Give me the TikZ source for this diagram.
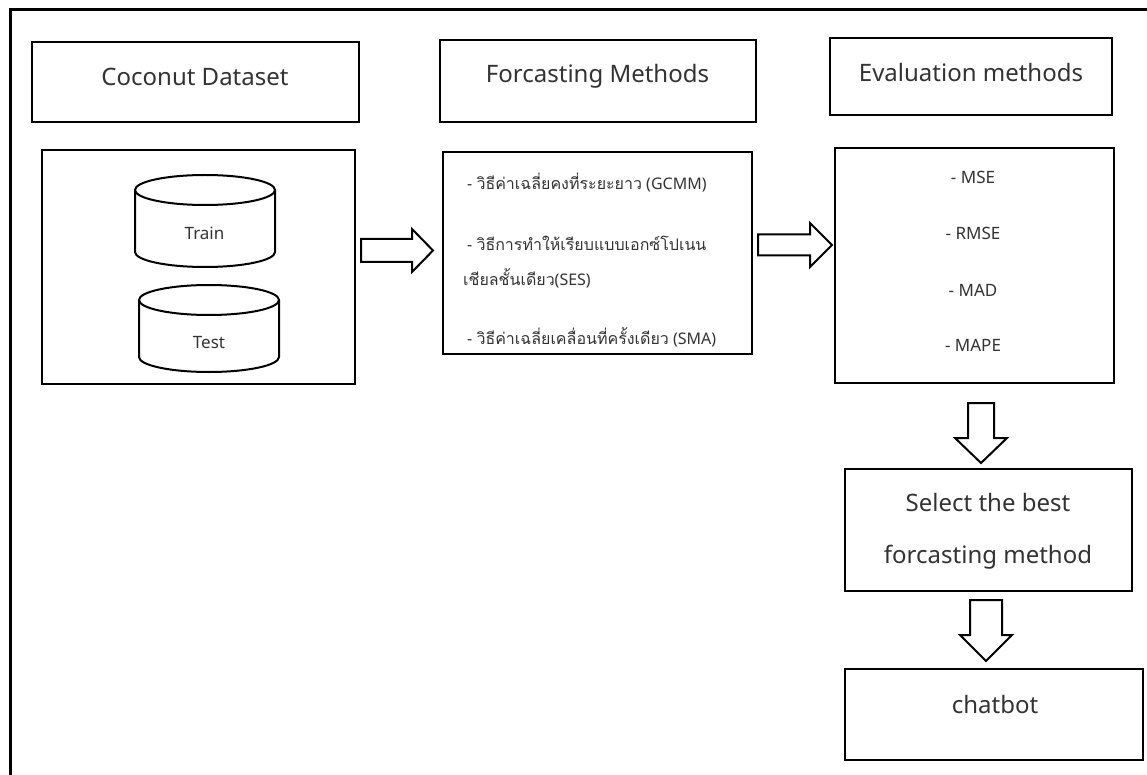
\documentclass[tikz,border=0pt]{standalone}
\usepackage{fontspec}
\setmainfont{Noto Sans}
\newfontfamily\thaifont[Script=Thai]{Loma}
\usetikzlibrary{calc}
\definecolor{ink}{gray}{0.2}

\tikzset{
  frame/.style={line width=3pt},
  box/.style={draw, line width=2.7pt, inner sep=0pt},
  big/.style={font=\fontsize{24}{28}\selectfont, text=ink, inner sep=0pt, anchor=base},
  small/.style={font=\fontsize{16}{20}\selectfont, text=ink, inner sep=0pt},
  label17/.style={font=\fontsize{17}{20}\selectfont, text=ink, inner sep=0pt},
  blockarrow/.style={draw, line width=2pt, line join=miter, fill=white},
  drum/.style={draw, line width=2pt, fill=white},
}

% horizontal block arrow: tail, tip, shaft half-width, head half-width, head length
\newcommand\rightblock[5]{%
  \draw[blockarrow] let \p1=(#1), \p2=(#2) in
    (\x1,\y1+#3pt) -- (\x2-#5pt,\y1+#3pt) -- (\x2-#5pt,\y1+#4pt) -- (\x2,\y1)
    -- (\x2-#5pt,\y1-#4pt) -- (\x2-#5pt,\y1-#3pt) -- (\x1,\y1-#3pt) -- cycle;}
% downward block arrow: top, tip, shaft half-width, head half-width, head length
\newcommand\downblock[5]{%
  \draw[blockarrow] let \p1=(#1), \p2=(#2) in
    (\x1-#3pt,\y1) -- (\x1-#3pt,\y2+#5pt) -- (\x1-#4pt,\y2+#5pt) -- (\x1,\y2)
    -- (\x1+#4pt,\y2+#5pt) -- (\x1+#3pt,\y2+#5pt) -- (\x1+#3pt,\y1) -- cycle;}
% database drum: centre x, top y, bottom y, half width, end radius
\newcommand\drumshape[5]{%
  \draw[drum] (#1-#4,#2+#5) -- (#1-#4,#3-#5)
    arc[start angle=180, end angle=0, x radius=#4, y radius=#5]
    -- (#1+#4,#2+#5);
  \draw[drum] (#1,#2+#5) ellipse[x radius=#4, y radius=#5];}

\begin{document}
\begin{tikzpicture}[x=1pt, y=-1pt]
\useasboundingbox (0,0) rectangle (1147,775);
\fill[white] (0,0) rectangle (1147,775);

% outer frame
\draw[frame] (10,775) -- (10,10) -- (1147,10);

% column headers
\node[box, minimum width=327pt, minimum height=80pt] (dsHead) at (195.5,82) {};
\node[big] (dsHeadTxt) at (195,86) {Coconut Dataset};
\node[box, minimum width=316pt, minimum height=82pt] (fmHead) at (598,81) {};
\node[big] (fmHeadTxt) at (597.5,83) {Forcasting Methods};
\node[box, minimum width=282pt, minimum height=77pt] (evHead) at (971,76.5) {};
\node[big] (evHeadTxt) at (971,82) {Evaluation methods};

% dataset panel with the two drums
\node[box, minimum width=313pt, minimum height=234pt] (data) at (198.5,267) {};
\drumshape{205}{175}{267}{70}{15}
\node[label17, anchor=base] (train) at (204.5,240) {Train};
\drumshape{209}{285}{372}{70}{15}
\node[label17, anchor=base] (test) at (209,348) {Test};

% forecasting methods panel
\node[box, minimum width=309pt, minimum height=202pt] (fm) at (597.5,253) {};
\node[small, anchor=base west] (fm1) at (467,190) {- {\thaifont วิธีค่าเฉลี่ยคงที่ระยะยาว} (GCMM)};
\node[small, anchor=base west] (fm2) at (467,251) {- {\thaifont วิธีการทำให้เรียบแบบเอกซ์โปเนน}};
\node[small, anchor=base west] (fm3) at (463,286) {{\thaifont เชียลชั้นเดียว}(SES)};
\node[small, anchor=base west] (fm4) at (467,344) {- {\thaifont วิธีค่าเฉลี่ยเคลื่อนที่ครั้งเดียว} (SMA)};

% evaluation panel
\node[box, minimum width=279pt, minimum height=235pt] (ev) at (974.5,265.5) {};
\node[label17, anchor=base] (ev1) at (973,184) {- MSE};
\node[label17, anchor=base] (ev2) at (973,240) {- RMSE};
\node[label17, anchor=base] (ev3) at (973,296) {- MAD};
\node[label17, anchor=base] (ev4) at (973,351) {- MAPE};

% selection and chatbot
\node[box, minimum width=287pt, minimum height=122pt] (sel) at (988.5,530) {};
\node[big] (sel1) at (988,511) {Select the best};
\node[big] (sel2) at (988,563) {forcasting method};
\node[box, minimum width=298pt, minimum height=91pt] (bot) at (994,714.5) {};
\node[big] (botTxt) at (995,713) {chatbot};

% block arrows between the stages
\coordinate (a1s) at (361,250.5);
\coordinate (a1e) at (433,250.5);
\rightblock{a1s}{a1e}{11.5}{21.5}{21}
\coordinate (a2s) at (758,245);
\coordinate (a2e) at (832,245);
\rightblock{a2s}{a2e}{10.5}{22}{22}
\coordinate (a3s) at (981,403);
\coordinate (a3e) at (981,463);
\downblock{a3s}{a3e}{13}{26}{25}
\coordinate (a4s) at (986,600);
\coordinate (a4e) at (986,661);
\downblock{a4s}{a4e}{16}{26}{26}
\end{tikzpicture}
\end{document}
